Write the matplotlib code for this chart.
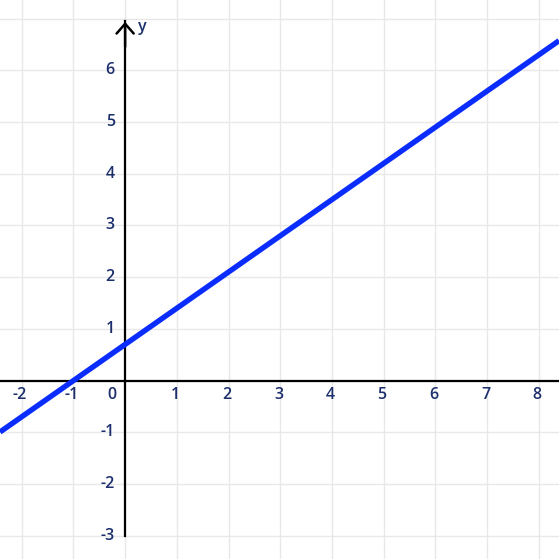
import numpy as np
import matplotlib.pyplot as plt

# data
slope = 0.7
intercept = 0.7
x_ticks = [-2, -1, 1, 2, 3, 4, 5, 6, 7, 8]
y_ticks = [-3, -2, -1, 1, 2, 3, 4, 5, 6]
x_lim = (-2.42, 8.39)
y_lim = (-3.45, 7.36)

label_color = '#1c2f6c'
plt.rcParams['font.family'] = ['Open Sans', 'DejaVu Sans']

fig = plt.figure(figsize=(5.59, 5.59), dpi=100)
ax = fig.add_axes([0, 0, 1, 1])
ax.set_xlim(*x_lim)
ax.set_ylim(*y_lim)

# grid
for gx in range(-3, 10):
    ax.axvline(gx, color='#e8e8e8', lw=1, zorder=0)
for gy in range(-4, 8):
    ax.axhline(gy, color='#e8e8e8', lw=1, zorder=0)

# axes
ax.axhline(0, color='black', lw=1.6, zorder=2)
ax.plot([0, 0], [-3, 6.95], color='black', lw=1.6, zorder=2)
ax.annotate('', xy=(0, 6.99), xytext=(0, 6.4),
            arrowprops=dict(arrowstyle='->,head_length=0.25,head_width=0.22',
                            color='black', lw=1.8, mutation_scale=28), zorder=3)
ax.text(0.34, 6.84, 'y', color=label_color, fontsize=11.5, weight='semibold',
        ha='center', va='center')

# tick labels
fs = 11.5
for t in x_ticks:
    ax.text(t - 0.03, -0.28, str(t), color=label_color, fontsize=fs,
            weight='semibold', ha='center', va='center')
ax.text(-0.25, -0.28, '0', color=label_color, fontsize=fs, weight='semibold',
        ha='center', va='center')
for t in y_ticks:
    ax.text(-0.2, t, str(t), color=label_color, fontsize=fs, weight='semibold',
            ha='right', va='center')

# line
xs = np.array(x_lim)
ax.plot(xs, slope * xs + intercept, color='#0a2cff', lw=3.9, zorder=4,
        solid_capstyle='butt')

ax.axis('off')
fig.savefig('out.png', dpi=100)
